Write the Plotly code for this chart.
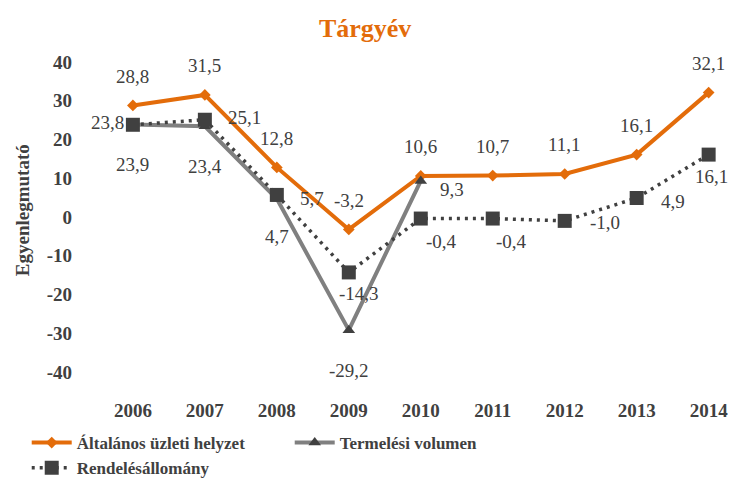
import plotly.graph_objects as go

years = ["2006", "2007", "2008", "2009", "2010", "2011", "2012", "2013", "2014"]
altalanos = [28.8, 31.5, 12.8, -3.2, 10.6, 10.7, 11.1, 16.1, 32.1]
termelesi_years = ["2006", "2007", "2008", "2009", "2010"]
termelesi = [23.9, 23.4, 4.7, -29.2, 9.3]
rendeles = [23.8, 25.1, 5.7, -14.3, -0.4, -0.4, -1.0, 4.9, 16.1]
y_ticks = [-40, -30, -20, -10, 0, 10, 20, 30, 40]

ORANGE = "#E36C0A"
GRAY = "#808080"
DARK = "#404040"
FONT = "Liberation Serif"

# label offsets (px) -- styling only
alt_off = [(0, 29)] * 9
ter_off = [(0, -40), (0, -40), (0, -38), (0, -40), (31, -9)]
ren_off = [(-25, 2), (40, 2), (35, -4), (10, -21), (21, -23), (19, -23), (40, -2), (36, -3), (3, -22)]


def fmt(v):
    return f"{v:.1f}".replace(".", ",")


fig = go.Figure()
fig.add_trace(go.Scatter(
    x=years, y=altalanos, name="Általános üzleti helyzet", mode="lines+markers",
    line=dict(color=ORANGE, width=4), marker=dict(symbol="diamond", size=9, color=ORANGE),
    cliponaxis=False))
fig.add_trace(go.Scatter(
    x=termelesi_years, y=termelesi, name="Termelési volumen", mode="lines+markers",
    line=dict(color=GRAY, width=4), marker=dict(symbol="triangle-up", size=11, color=DARK),
    cliponaxis=False))
fig.add_trace(go.Scatter(
    x=years, y=rendeles, name="Rendelésállomány", mode="lines+markers",
    line=dict(color=DARK, width=3.5, dash="3px,5px"), marker=dict(symbol="square", size=14, color=DARK),
    cliponaxis=False))

annotations = []
for xs, ys, offs in ((years, altalanos, alt_off), (termelesi_years, termelesi, ter_off), (years, rendeles, ren_off)):
    for x, y, (dx, dy) in zip(xs, ys, offs):
        annotations.append(dict(x=years.index(x), y=y, text=fmt(y), showarrow=False, xshift=dx, yshift=dy,
                                font=dict(family=FONT, size=19, color=DARK)))

annotations.append(dict(xref="paper", yref="paper", x=-0.126, y=0.558, xanchor="center", yanchor="middle",
                        text="Egyenlegmutató", textangle=-90,
                        showarrow=False, font=dict(family=FONT, size=19, color=DARK, weight="bold")))

fig.update_layout(
    width=720, height=471,
    paper_bgcolor="white", plot_bgcolor="white",
    margin=dict(l=92, r=10, t=54, b=82, autoexpand=False),
    title=dict(text="<b>Tárgyév</b>", x=0.496, xanchor="center", y=1 - 20 / 471, yanchor="middle",
               font=dict(family=FONT, size=26, color=ORANGE)),
    showlegend=True,
    legend=dict(orientation="h", xref="container", yref="container", x=0.026, y=1 - 417 / 471,
                xanchor="left", yanchor="top", entrywidth=208, entrywidthmode="pixels",
                font=dict(family=FONT, size=17, color=DARK, weight="bold"), itemwidth=40),
    annotations=annotations,
    font=dict(family=FONT, color=DARK),
)
fig.update_xaxes(type="category", range=[-0.457, 8.13], showgrid=False, showline=False, zeroline=False,
                 ticks="", tickfont=dict(family=FONT, size=19, color=DARK, weight="bold"))
fig.update_yaxes(range=[-46.45, 40], tickvals=y_ticks, ticktext=[str(v) for v in y_ticks],
                 showgrid=False, showline=False, zeroline=False, ticks="", ticklabelstandoff=27,
                 tickfont=dict(family=FONT, size=19, color=DARK, weight="bold"))

fig.write_html("out.html")
